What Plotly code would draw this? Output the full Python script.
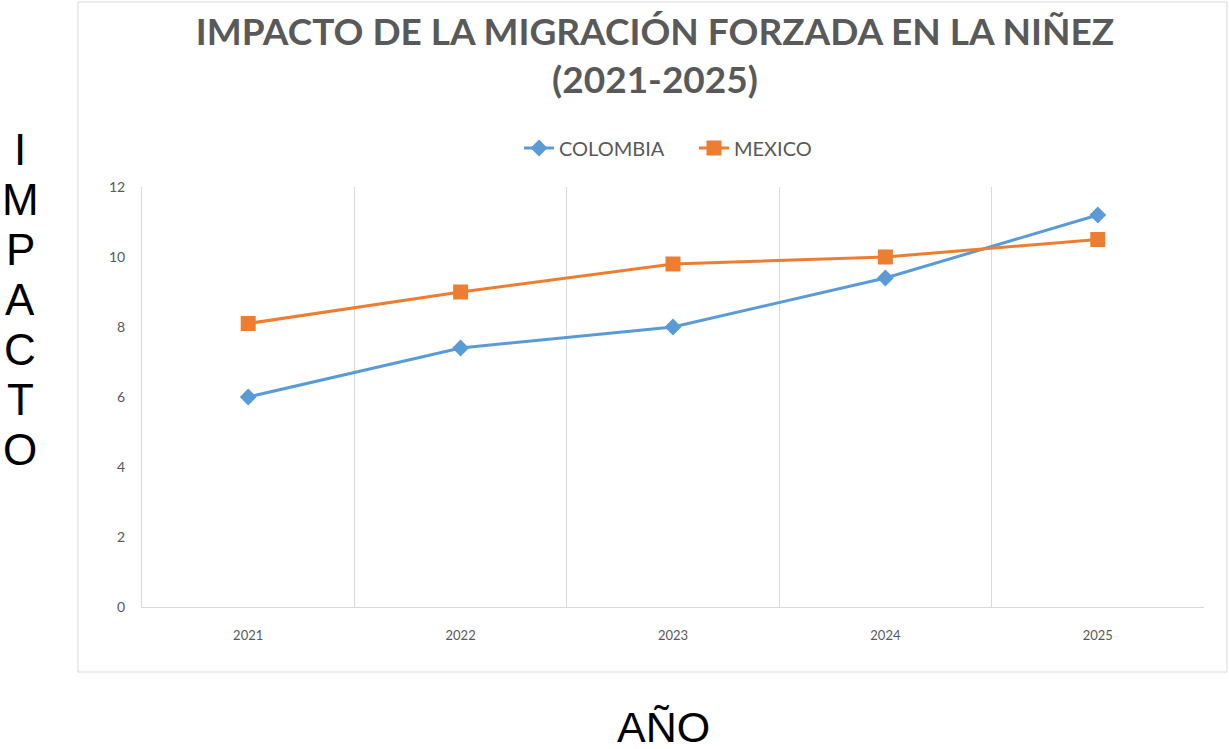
import plotly.graph_objects as go

years = ["2021", "2022", "2023", "2024", "2025"]
colombia = [6.0, 7.4, 8.0, 9.4, 11.2]
mexico = [8.1, 9.0, 9.8, 10.0, 10.5]
y_ticks = [0, 2, 4, 6, 8, 10, 12]
title_text = "IMPACTO DE LA MIGRACIÓN FORZADA EN LA NIÑEZ<br>(2021-2025)"
y_title = "IMPACTO"
x_title = "AÑO"

W, H = 1229, 749
L, R, T, B = 142, 1204, 187, 607

def px_x(p):
    return (p - L) / (R - L)

def px_y(p):
    return (B - p) / (B - T)

fig = go.Figure()
fig.add_trace(go.Scatter(
    x=years, y=colombia, name="COLOMBIA", mode="lines+markers",
    line=dict(color="#5b9bd5", width=3),
    marker=dict(symbol="diamond", size=13, color="#5b9bd5"),
))
fig.add_trace(go.Scatter(
    x=years, y=mexico, name="MEXICO", mode="lines+markers",
    line=dict(color="#ed7d31", width=3),
    marker=dict(symbol="square", size=15, color="#ed7d31"),
))

annotations = []
for i, ch in enumerate(y_title):
    annotations.append(dict(
        text=ch, xref="paper", yref="paper", x=px_x(20), y=px_y(149 + 50 * i),
        xanchor="center", yanchor="middle", showarrow=False,
        font=dict(family="Liberation Sans, Arial", size=44, color="#000000"),
    ))
annotations.append(dict(
    text=x_title, xref="paper", yref="paper", x=px_x(663), y=px_y(727),
    xanchor="center", yanchor="middle", showarrow=False,
    font=dict(family="Liberation Sans, Arial", size=43, color="#000000"),
))

fig.update_layout(
    width=W, height=H,
    margin=dict(l=L, r=W - R, t=T, b=H - B, pad=0),
    paper_bgcolor="white", plot_bgcolor="white",
    title=dict(
        text=title_text, x=655 / W, xanchor="center",
        y=1 - 45 / H, yanchor="middle",
        font=dict(family="Lato, Open Sans", size=37, color="#595959", weight="bold"),
    ),
    legend=dict(
        orientation="h", x=px_x(694), xanchor="center", y=px_y(148), yanchor="middle",
        font=dict(family="Lato, Open Sans", size=20, color="#595959"),
        itemwidth=30, tracegroupgap=0, entrywidth=130, entrywidthmode="pixels",
    ),
    showlegend=True,
    annotations=annotations,
    shapes=[dict(
        type="rect", xref="paper", yref="paper",
        x0=px_x(78), x1=px_x(1227), y0=px_y(672), y1=px_y(2),
        line=dict(color="#d9d9d9", width=1), fillcolor="rgba(0,0,0,0)", layer="below",
    )],
    font=dict(family="Lato, Open Sans", color="#595959"),
)

fig.update_xaxes(
    type="category", range=[-0.5, 4.5], tickson="boundaries",
    showgrid=True, gridcolor="#d9d9d9", gridwidth=1,
    showline=True, linecolor="#d9d9d9", linewidth=1,
    ticks="", tickfont=dict(family="Lato, Open Sans", size=13, color="#595959"),
    ticklabelstandoff=16, zeroline=False,
)
fig.update_yaxes(
    range=[0, 12], tickvals=y_ticks, showgrid=False,
    showline=True, linecolor="#d9d9d9", linewidth=1,
    ticks="", tickfont=dict(family="Lato, Open Sans", size=14, color="#595959"),
    ticklabelstandoff=13, zeroline=False,
)

fig.write_html("out.html", config={"displayModeBar": False},
               post_script="document.body.style.margin='0px';")
